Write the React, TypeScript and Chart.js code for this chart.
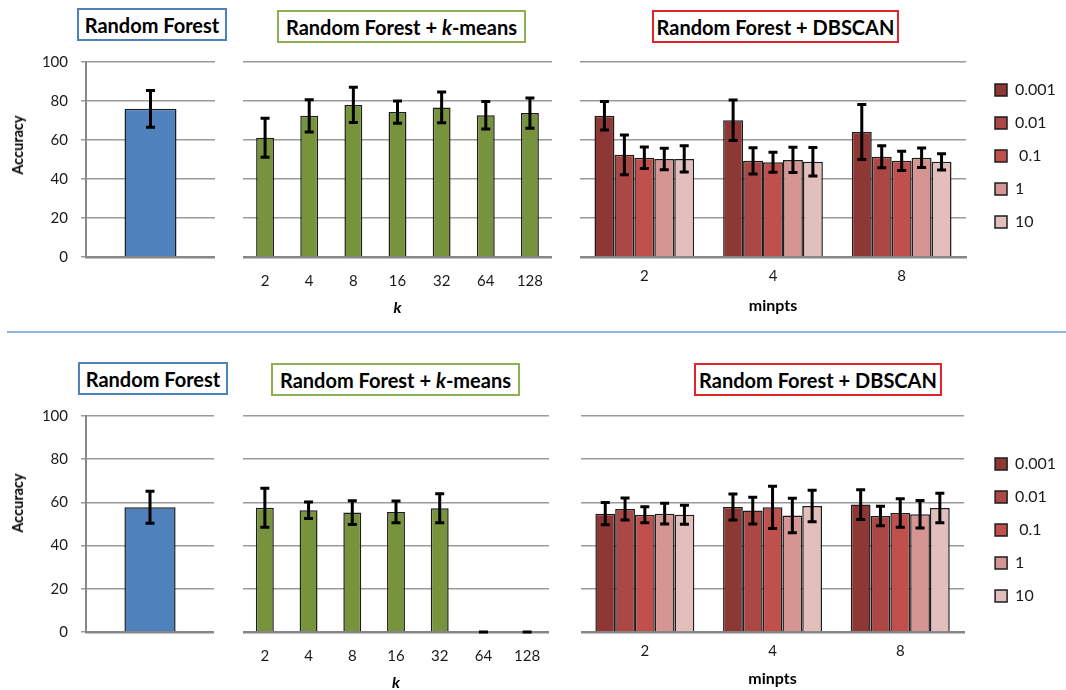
import React, { useEffect, useRef } from 'react';
import { Chart, registerables } from 'chart.js';

Chart.register(...registerables);

const FONT = 'Lato, "Open Sans", "DejaVu Sans", sans-serif';

// ---- categories / tick labels ----
const rfLabels = [''];
const kLabels = ['2', '4', '8', '16', '32', '64', '128'];
const minptsLabels = ['2', '4', '8'];
const epsLabels = ['0.001', '0.01', ' 0.1', '1', '10'];
const yMin = 0;
const yMax = 100;
const yStep = 20;

// ---- top row ----
const rfTop = [76];
const rfTopErr = [9.4];
const kmTop = [61.2, 72.4, 78.0, 74.3, 76.7, 72.7, 73.8];
const kmTopErr = [10, 8.3, 9, 5.7, 7.9, 7, 7.8];
const dbTop0001 = [72.4, 70.1, 64.1];
const dbTop0001Err = [7.3, 10.4, 14.1];
const dbTop001 = [52.4, 49.3, 51.4];
const dbTop001Err = [10.2, 6.7, 5.6];
const dbTop01 = [50.9, 48.6, 49.3];
const dbTop01Err = [5.5, 5.1, 4.9];
const dbTop1 = [50.3, 49.8, 50.9];
const dbTop1Err = [5.5, 6.5, 5.0];
const dbTop10 = [50.3, 48.8, 48.8];
const dbTop10Err = [6.7, 7.3, 4.2];

// ---- bottom row ----
const rfBot = [57.8];
const rfBotErr = [7.4];
const kmBot = [57.5, 56.4, 55.3, 55.6, 57.3, 0, 0];
const kmBotErr = [9, 3.8, 5.5, 5, 6.7, 0, 0];
const dbBot0001 = [54.8, 57.9, 59.0];
const dbBot0001Err = [5.1, 6.0, 6.9];
const dbBot001 = [56.9, 56.2, 53.7];
const dbBot001Err = [5.1, 6.2, 4.5];
const dbBot01 = [54.3, 57.7, 55.1];
const dbBot01Err = [3.7, 9.8, 6.6];
const dbBot1 = [54.8, 53.9, 54.5];
const dbBot1Err = [4.8, 8.0, 6.4];
const dbBot10 = [54.3, 58.3, 57.4];
const dbBot10Err = [4.4, 7.3, 6.8];

// ---- styles ----
const BLUE = '#4f81bd';
const GREEN = '#77933c';
const DB_COLORS = ['#8e3835', '#ab4744', '#c0504d', '#d49593', '#e2bebd'];
const BAR_BORDER = '#1e1e1e';
const GRID = '#9a9a9a';
const AXIS = '#878787';
const TEXT = '#1a1a1a';
const XAXIS_H = 60;
const LEGEND_FONT = 16;
const LEGEND_BOX = 12;
const LEGEND_PAD = 17;

function measure(text: string, font: string) {
  const c = document.createElement('canvas').getContext('2d') as CanvasRenderingContext2D;
  c.font = font;
  return c.measureText(text).width;
}

const errorBarPlugin = {
  id: 'errorBars',
  afterDatasetsDraw(chart: any) {
    const ctx = chart.ctx;
    const y = chart.scales.y;
    chart.data.datasets.forEach((ds: any, i: number) => {
      const errs = ds.errors;
      if (!errs) return;
      const meta = chart.getDatasetMeta(i);
      meta.data.forEach((el: any, j: number) => {
        const v = ds.data[j];
        const e = errs[j];
        const x = el.x;
        const yT = y.getPixelForValue(v + e);
        const yB = y.getPixelForValue(v - e);
        ctx.save();
        ctx.strokeStyle = '#000';
        ctx.lineWidth = 3;
        ctx.beginPath();
        if (e > 0) {
          ctx.moveTo(x, yT);
          ctx.lineTo(x, yB);
        }
        ctx.moveTo(x - 4.5, yT);
        ctx.lineTo(x + 4.5, yT);
        ctx.moveTo(x - 4.5, yB);
        ctx.lineTo(x + 4.5, yB);
        ctx.stroke();
        ctx.restore();
      });
    });
  },
};

type Row = { canvasTop: number; areaTop: number; areaBottom: number };
const TOP_ROW: Row = { canvasTop: 50, areaTop: 62, areaBottom: 257 };
const BOT_ROW: Row = { canvasTop: 404, areaTop: 416, areaBottom: 632 };

const baseOptions = (row: Row, padRight: number) => ({
  animation: false,
  responsive: false,
  maintainAspectRatio: false,
  events: [],
  layout: { autoPadding: false, padding: { top: row.areaTop - row.canvasTop, left: 0, right: padRight, bottom: 0 } },
});

const xFit = (s: any) => {
  s.height = XAXIS_H;
  s.paddingLeft = 0;
  s.paddingRight = 0;
};

const hiddenY = (position: string, width: number) => ({
  position,
  min: yMin,
  max: yMax,
  ticks: { display: false, stepSize: yStep },
  grid: { color: GRID, lineWidth: 1.5, drawTicks: false },
  border: { display: false },
  afterFit: (s: any) => {
    s.width = width;
    s.paddingTop = 0;
    s.paddingBottom = 0;
  },
});

function rfConfig(row: Row, values: number[], errors: number[], barPct: number) {
  return {
    type: 'bar',
    data: {
      labels: rfLabels,
      datasets: [
        {
          data: values,
          errors,
          backgroundColor: BLUE,
          borderColor: BAR_BORDER,
          borderWidth: 1.5,
          barPercentage: barPct,
          categoryPercentage: 1,
        },
      ],
    },
    options: {
      ...baseOptions(row, 0),
      plugins: { legend: { display: false }, tooltip: { enabled: false } },
      scales: {
        x: {
          grid: { display: false, drawTicks: false },
          border: { color: AXIS, width: 2.5 },
          ticks: { display: false },
          afterFit: xFit,
        },
        y: {
          min: yMin,
          max: yMax,
          ticks: { stepSize: yStep, padding: 13, color: TEXT, font: { family: FONT, size: 15 } },
          grid: { color: GRID, lineWidth: 1.5, drawTicks: true, tickLength: 5 },
          border: { color: AXIS, width: 2 },
          afterFit: (s: any) => {
            s.width = 86;
            s.paddingTop = 0;
            s.paddingBottom = 0;
          },
        },
      },
    },
    plugins: [errorBarPlugin],
  };
}

function kmConfig(row: Row, values: number[], errors: number[], barPct: number) {
  return {
    type: 'bar',
    data: {
      labels: kLabels,
      datasets: [
        {
          data: values,
          errors,
          backgroundColor: GREEN,
          borderColor: BAR_BORDER,
          borderWidth: 1.5,
          barPercentage: barPct,
          categoryPercentage: 1,
        },
      ],
    },
    options: {
      ...baseOptions(row, 0),
      plugins: { legend: { display: false }, tooltip: { enabled: false } },
      scales: {
        x: {
          grid: { display: false, drawTicks: false },
          border: { color: AXIS, width: 2.5 },
          ticks: { padding: 15, color: TEXT, font: { family: FONT, size: 15 } },
          title: {
            display: true,
            text: 'k',
            color: '#000',
            font: { family: FONT, size: 16, weight: 'bold', style: 'italic' },
            padding: { top: 0, bottom: 0 },
          },
          afterFit: xFit,
        },
        y: hiddenY('left', 0),
      },
    },
    plugins: [errorBarPlugin],
  };
}

function dbConfig(
  row: Row,
  series: number[][],
  seriesErr: number[][],
  canvasW: number,
  areaW: number,
  yWidth: number,
  spacer: number,
  titlePad: number
) {
  const legendFont = `${LEGEND_FONT}px ${FONT}`;
  const widest = Math.max(...epsLabels.map((l) => measure(l, legendFont)));
  const legendW = LEGEND_PAD + LEGEND_BOX + LEGEND_FONT / 2 + widest + 10;
  const padRight = Math.max(0, canvasW - areaW - yWidth - legendW);
  return {
    type: 'bar',
    data: {
      labels: minptsLabels,
      datasets: epsLabels.map((label, i) => ({
        label,
        data: series[i],
        errors: seriesErr[i],
        backgroundColor: DB_COLORS[i],
        borderColor: BAR_BORDER,
        borderWidth: 1.5,
        barPercentage: 1,
        categoryPercentage: 0.775,
      })),
    },
    options: {
      ...baseOptions(row, padRight),
      plugins: {
        tooltip: { enabled: false },
        legend: {
          display: true,
          position: 'right',
          align: 'start',
          fullSize: false,
          title: { display: true, text: '', padding: 0, font: { size: spacer, lineHeight: 1 } },
          labels: {
            boxWidth: LEGEND_BOX,
            boxHeight: LEGEND_BOX,
            padding: LEGEND_PAD,
            color: TEXT,
            font: { family: FONT, size: LEGEND_FONT },
          },
        },
      },
      scales: {
        x: {
          grid: { display: false, drawTicks: false },
          border: { color: AXIS, width: 2.5 },
          ticks: { padding: 10, color: TEXT, font: { family: FONT, size: 15 } },
          title: {
            display: true,
            text: 'minpts',
            color: '#000',
            font: { family: FONT, size: 16, weight: 'bold' },
            padding: { top: 0, bottom: titlePad },
          },
          afterFit: xFit,
        },
        y: hiddenY('right', yWidth),
      },
    },
    plugins: [errorBarPlugin],
  };
}

function ChartPanel({ left, top, width, height, make }: any) {
  const ref = useRef<HTMLCanvasElement>(null);
  useEffect(() => {
    if (!ref.current) return;
    const chart = new Chart(ref.current, make() as any);
    return () => chart.destroy();
  }, []);
  return (
    <canvas
      ref={ref}
      width={width}
      height={height}
      style={{ position: 'absolute', left, top, width, height, display: 'block' }}
    />
  );
}

function TitleBox({ left, top, width, color, children }: any) {
  return (
    <div
      style={{
        position: 'absolute',
        left,
        top,
        width,
        height: 33,
        boxSizing: 'border-box',
        border: `2px solid ${color}`,
        background: '#fff',
        display: 'flex',
        alignItems: 'center',
        justifyContent: 'center',
        fontFamily: FONT,
        fontWeight: 'bold',
        fontSize: 20,
        color: '#000',
        whiteSpace: 'nowrap',
      }}
    >
      {children}
    </div>
  );
}

function YTitle({ cx, cy }: any) {
  return (
    <div
      style={{
        position: 'absolute',
        left: cx,
        top: cy,
        transform: 'translate(-50%, -50%) rotate(-90deg)',
        fontFamily: FONT,
        fontWeight: 'bold',
        fontSize: 14.5,
        lineHeight: '18px',
        color: '#000',
        whiteSpace: 'nowrap',
      }}
    >
      Accuracy
    </div>
  );
}

const KMTitle = () => (
  <span>
    Random Forest + <i>k</i>-means
  </span>
);

export default function App() {
  const topH = TOP_ROW.areaBottom - TOP_ROW.canvasTop + XAXIS_H;
  const botH = BOT_ROW.areaBottom - BOT_ROW.canvasTop + XAXIS_H;
  return (
    <div
      style={{
        position: 'absolute',
        left: 0,
        top: 0,
        width: 1066,
        height: 690,
        overflow: 'hidden',
        background: '#fff',
        fontFamily: FONT,
      }}
    >
      {/* top row */}
      <ChartPanel left={0} top={TOP_ROW.canvasTop} width={215} height={topH}
        make={() => rfConfig(TOP_ROW, rfTop, rfTopErr, 0.403)} />
      <ChartPanel left={243} top={TOP_ROW.canvasTop} width={309} height={topH}
        make={() => kmConfig(TOP_ROW, kmTop, kmTopErr, 0.405)} />
      <ChartPanel left={580} top={TOP_ROW.canvasTop} width={486} height={topH}
        make={() =>
          dbConfig(
            TOP_ROW,
            [dbTop0001, dbTop001, dbTop01, dbTop1, dbTop10],
            [dbTop0001Err, dbTop001Err, dbTop01Err, dbTop1Err, dbTop10Err],
            486, 386, 12, 3, 2
          )
        } />
      <YTitle cx={18} cy={145} />
      <TitleBox left={77} top={8} width={150} color="#4f81bd">Random Forest</TitleBox>
      <TitleBox left={277} top={10} width={249} color="#8fb052"><KMTitle /></TitleBox>
      <TitleBox left={652} top={10} width={247} color="#e0242b">Random Forest + DBSCAN</TitleBox>

      {/* divider */}
      <div style={{ position: 'absolute', left: 7, top: 331, width: 1059, height: 2, background: '#8eb4e3' }} />

      {/* bottom row */}
      <ChartPanel left={0} top={BOT_ROW.canvasTop} width={214} height={botH}
        make={() => rfConfig(BOT_ROW, rfBot, rfBotErr, 0.40)} />
      <ChartPanel left={243} top={BOT_ROW.canvasTop} width={306} height={botH}
        make={() => kmConfig(BOT_ROW, kmBot, kmBotErr, 0.41)} />
      <ChartPanel left={581} top={BOT_ROW.canvasTop} width={485} height={botH}
        make={() =>
          dbConfig(
            BOT_ROW,
            [dbBot0001, dbBot001, dbBot01, dbBot1, dbBot10],
            [dbBot0001Err, dbBot001Err, dbBot01Err, dbBot1Err, dbBot10Err],
            485, 392, 14, 23, 4
          )
        } />
      <YTitle cx={18} cy={503} />
      <TitleBox left={78} top={362} width={150} color="#4f81bd">Random Forest</TitleBox>
      <TitleBox left={271} top={363} width={249} color="#8fb052"><KMTitle /></TitleBox>
      <TitleBox left={694} top={363} width={248} color="#e0242b">Random Forest + DBSCAN</TitleBox>
    </div>
  );
}
